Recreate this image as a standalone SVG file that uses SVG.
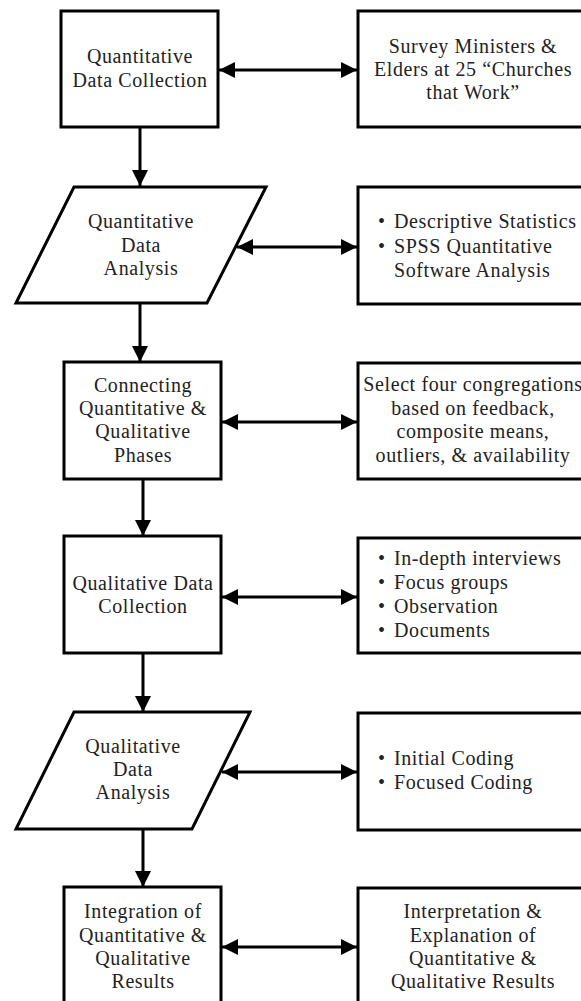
<svg xmlns="http://www.w3.org/2000/svg" width="581" height="1001" viewBox="0 0 581 1001">
<style>
.shape{fill:#fff;stroke:#000;stroke-width:3;stroke-linejoin:miter}
.t{font-family:"Liberation Serif","Times New Roman",serif;font-size:20px;letter-spacing:0.6px;fill:#222}
.c{text-anchor:middle}
.ln{stroke:#000;stroke-width:3;fill:none}
</style>
<defs>
<marker id="ah" viewBox="0 0 16 16" refX="16" refY="8" markerWidth="16" markerHeight="16" markerUnits="userSpaceOnUse" orient="auto-start-reverse">
<path d="M0,0 L16,8 L0,16 Z" fill="#000"/>
</marker>
</defs>
<rect width="581" height="1001" fill="#fff"/>

<g id="connectors">
<line class="ln" x1="140" y1="127" x2="140" y2="186" marker-end="url(#ah)"/>
<line class="ln" x1="140" y1="303" x2="140" y2="362" marker-end="url(#ah)"/>
<line class="ln" x1="143" y1="479" x2="143" y2="536" marker-end="url(#ah)"/>
<line class="ln" x1="143" y1="653" x2="143" y2="712" marker-end="url(#ah)"/>
<line class="ln" x1="143" y1="829" x2="143" y2="887" marker-end="url(#ah)"/>
<line class="ln" x1="219" y1="70" x2="357" y2="70" marker-start="url(#ah)" marker-end="url(#ah)"/>
<line class="ln" x1="237" y1="247" x2="357" y2="247" marker-start="url(#ah)" marker-end="url(#ah)"/>
<line class="ln" x1="222" y1="422" x2="357" y2="422" marker-start="url(#ah)" marker-end="url(#ah)"/>
<line class="ln" x1="222" y1="597" x2="357" y2="597" marker-start="url(#ah)" marker-end="url(#ah)"/>
<line class="ln" x1="222" y1="772" x2="357" y2="772" marker-start="url(#ah)" marker-end="url(#ah)"/>
<line class="ln" x1="222" y1="947" x2="357" y2="947" marker-start="url(#ah)" marker-end="url(#ah)"/>
</g>

<g id="n1">
<rect class="shape" x="61" y="11" width="157" height="116"/>
<text class="t c" x="140" y="63">Quantitative</text>
<text class="t c" x="140" y="87">Data Collection</text>
</g>
<g id="r1">
<rect class="shape" x="358" y="11" width="240" height="116"/>
<text class="t c" x="473" y="53">Survey Ministers &amp;</text>
<text class="t c" x="473" y="76">Elders at 25 “Churches</text>
<text class="t c" x="473" y="99">that Work”</text>
</g>

<g id="n2">
<polygon class="shape" points="74,187 266,187 207,303 16,303"/>
<text class="t c" x="141" y="228">Quantitative</text>
<text class="t c" x="141" y="252">Data</text>
<text class="t c" x="141" y="275">Analysis</text>
</g>
<g id="r2">
<rect class="shape" x="358" y="187" width="240" height="117"/>
<text class="t" x="378" y="228">•</text><text class="t" x="394" y="228">Descriptive Statistics</text>
<text class="t" x="378" y="253">•</text><text class="t" x="394" y="253">SPSS Quantitative</text>
<text class="t" x="394" y="277">Software Analysis</text>
</g>

<g id="n3">
<rect class="shape" x="64" y="362" width="157" height="117"/>
<text class="t c" x="143" y="392">Connecting</text>
<text class="t c" x="143" y="415">Quantitative &amp;</text>
<text class="t c" x="143" y="438">Qualitative</text>
<text class="t c" x="143" y="462">Phases</text>
</g>
<g id="r3">
<rect class="shape" x="358" y="363" width="240" height="116"/>
<text class="t c" x="473" y="391">Select four congregations</text>
<text class="t c" x="473" y="415">based on feedback,</text>
<text class="t c" x="473" y="438">composite means,</text>
<text class="t c" x="473" y="462">outliers, &amp; availability</text>
</g>

<g id="n4">
<rect class="shape" x="64" y="536" width="157" height="117"/>
<text class="t c" x="143" y="590">Qualitative Data</text>
<text class="t c" x="143" y="613">Collection</text>
</g>
<g id="r4">
<rect class="shape" x="358" y="538" width="240" height="115"/>
<text class="t" x="378" y="565">•</text><text class="t" x="394" y="565">In-depth interviews</text>
<text class="t" x="378" y="589">•</text><text class="t" x="394" y="589">Focus groups</text>
<text class="t" x="378" y="613">•</text><text class="t" x="394" y="613">Observation</text>
<text class="t" x="378" y="637">•</text><text class="t" x="394" y="637">Documents</text>
</g>

<g id="n5">
<polygon class="shape" points="74,712 250,712 192,829 16,829"/>
<text class="t c" x="133" y="753">Qualitative</text>
<text class="t c" x="133" y="776">Data</text>
<text class="t c" x="133" y="799">Analysis</text>
</g>
<g id="r5">
<rect class="shape" x="358" y="713" width="240" height="117"/>
<text class="t" x="378" y="765">•</text><text class="t" x="394" y="765">Initial Coding</text>
<text class="t" x="378" y="789">•</text><text class="t" x="394" y="789">Focused Coding</text>
</g>

<g id="n6">
<rect class="shape" x="64" y="887" width="157" height="130"/>
<text class="t c" x="143" y="918">Integration of</text>
<text class="t c" x="143" y="942">Quantitative &amp;</text>
<text class="t c" x="143" y="965">Qualitative</text>
<text class="t c" x="143" y="988">Results</text>
</g>
<g id="r6">
<rect class="shape" x="358" y="888" width="240" height="130"/>
<text class="t c" x="473" y="918">Interpretation &amp;</text>
<text class="t c" x="473" y="942">Explanation of</text>
<text class="t c" x="473" y="965">Quantitative &amp;</text>
<text class="t c" x="473" y="988">Qualitative Results</text>
</g>
</svg>
